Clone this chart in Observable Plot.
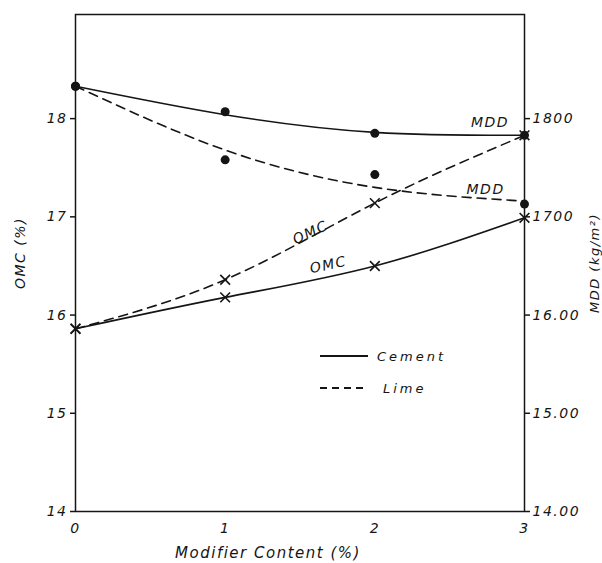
<!DOCTYPE html>
<html>
<head>
<meta charset="utf-8">
<script src="https://cdn.jsdelivr.net/npm/d3@7"></script>
<script src="https://cdn.jsdelivr.net/npm/@observablehq/plot@0.6"></script>
<style>
  html, body { margin: 0; padding: 0; background: #fff; }
</style>
</head>
<body>
<div id="chart"></div>
<script>
// Modifier content (%)
const modifier = [0, 1, 2, 3];
// Measured points
const cementMDD = [1833, 1807, 1785, 1783];
const limeMDD = [1833, 1758, 1743, 1713];
const cementOMC = [15.86, 16.18, 16.50, 16.99];
const limeOMC = [15.86, 16.36, 17.14, 17.83];
// Fitted curves as drawn
const cementMDDFit = [1833, 1804, 1786, 1783];
const limeMDDFit = [1833, 1768, 1730, 1716];
const cementOMCFit = [15.86, 16.18, 16.50, 16.99];
const limeOMCFit = [15.86, 16.36, 17.14, 17.83];
// Axis ticks
const xTicks = [0, 1, 2, 3];
const omcTicks = [14, 15, 16, 17, 18];
const mddTicks = [1400, 1500, 1600, 1700, 1800];
const mddTickLabels = ["14.00", "15.00", "16.00", "1700", "1800"];
const legendItems = [{label: "Cement", dash: null}, {label: "Lime", dash: "7,5"}];

const toRows = (ys, scale = 1) => modifier.map((x, i) => ({x, y: ys[i] / scale}));
const ink = "#151515";

const legendMark = (index, scales, values, dims) => {
  const g = d3.create("svg:g");
  legendItems.forEach((item, i) => {
    const y = 356 + i * 32;
    g.append("line").attr("x1", 320).attr("x2", 368).attr("y1", y).attr("y2", y)
      .attr("stroke", ink).attr("stroke-width", 1.8)
      .attr("stroke-dasharray", item.dash);
    g.append("text").attr("x", item.dash ? 383 : 377).attr("y", y).attr("dy", "0.35em")
      .attr("text-anchor", "start")
      .attr("font-size", 13).attr("letter-spacing", "3px").attr("font-style", "italic")
      .attr("fill", ink).text(item.label);
  });
  return g.node();
};

const chart = Plot.plot({
  width: 602,
  height: 563,
  marginLeft: 75,
  marginRight: 78,
  marginTop: 14,
  marginBottom: 52,
  style: {fontFamily: "'DejaVu Sans', sans-serif", fontStyle: "italic", fontSize: "14px", letterSpacing: "1.5px", background: "#fff", color: ink},
  x: {domain: [0, 3]},
  y: {domain: [14, 19.06]},
  marks: [
    Plot.frame({stroke: ink, strokeWidth: 1.5}),
    Plot.axisX(xTicks, {tickSize: 0, tickPadding: 12, label: null, tickFormat: (d) => String(d)}),
    Plot.axisY(omcTicks, {anchor: "left", tickSize: 5, tickPadding: 3, label: null, strokeWidth: 1.5, tickFormat: (d) => String(d)}),
    Plot.axisY(omcTicks, {anchor: "right", tickSize: 5, tickPadding: 3, label: null, strokeWidth: 1.5,
      tickFormat: (d) => mddTickLabels[mddTicks.indexOf(Math.round(d * 100))]}),
    // curves
    Plot.line(toRows(cementMDDFit, 100), {x: "x", y: "y", curve: "natural", stroke: ink, strokeWidth: 1.6}),
    Plot.line(toRows(limeMDDFit, 100), {x: "x", y: "y", curve: "natural", stroke: ink, strokeWidth: 1.6, strokeDasharray: "9,6"}),
    Plot.line(toRows(cementOMCFit), {x: "x", y: "y", curve: "natural", stroke: ink, strokeWidth: 1.6}),
    Plot.line(toRows(limeOMCFit), {x: "x", y: "y", curve: "natural", stroke: ink, strokeWidth: 1.6, strokeDasharray: "9,6"}),
    // points
    Plot.dot(toRows(cementMDD, 100), {x: "x", y: "y", r: 4.5, fill: ink, stroke: "none"}),
    Plot.dot(toRows(limeMDD, 100), {x: "x", y: "y", r: 4.5, fill: ink, stroke: "none"}),
    Plot.dot(toRows(cementOMC), {x: "x", y: "y", symbol: "times", r: 4.5, stroke: ink, strokeWidth: 1.6}),
    Plot.dot(toRows(limeOMC), {x: "x", y: "y", symbol: "times", r: 4.5, stroke: ink, strokeWidth: 1.6}),
    // curve labels
    Plot.text(["MDD"], {x: 2.77, y: 17.96, text: (d) => d, fontSize: 14, fill: ink}),
    Plot.text(["MDD"], {x: 2.74, y: 17.28, text: (d) => d, fontSize: 14, fill: ink}),
    Plot.text(["OMC"], {x: 1.57, y: 16.84, text: (d) => d, fontSize: 14, rotate: -25, fill: ink}),
    Plot.text(["OMC"], {x: 1.69, y: 16.51, text: (d) => d, fontSize: 14, rotate: -12, fill: ink}),
    // axis titles
    Plot.text(["OMC (%)"], {frameAnchor: "left", textAnchor: "middle", dx: -55, dy: -10, rotate: -90, text: (d) => d, fontSize: 14, letterSpacing: "2.5px", fill: ink}),
    Plot.text(["MDD (kg/m²)"], {frameAnchor: "right", textAnchor: "middle", dx: 70, dy: 0, rotate: -90, text: (d) => d, fontSize: 13, fill: ink}),
    Plot.text(["Modifier Content (%)"], {frameAnchor: "bottom", textAnchor: "middle", dx: -32, dy: 46, text: (d) => d, fontSize: 15, fill: ink}),
    legendMark
  ]
});
document.getElementById("chart").appendChild(chart);
</script>
</body>
</html>
